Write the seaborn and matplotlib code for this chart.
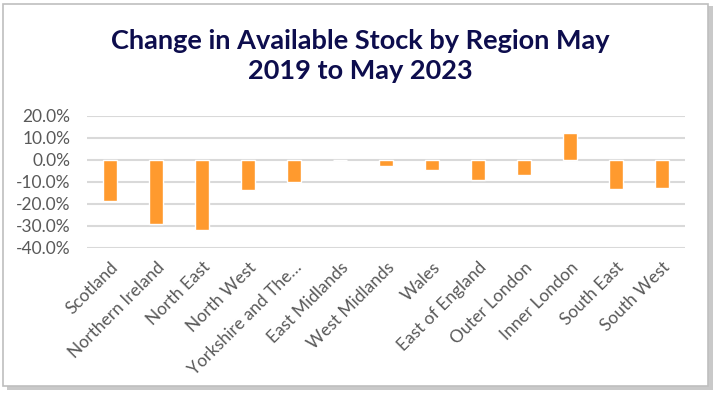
import pandas as pd
import matplotlib.pyplot as plt
import seaborn as sns
from matplotlib.patches import Rectangle
from matplotlib.ticker import PercentFormatter

regions = ['Scotland', 'Northern Ireland', 'North East', 'North West',
           'Yorkshire and The\u2026', 'East Midlands', 'West Midlands', 'Wales',
           'East of England', 'Outer London', 'Inner London', 'South East',
           'South West']
change = [-0.185, -0.29, -0.318, -0.135, -0.098, 0.001, -0.025, -0.045,
          -0.09, -0.068, 0.122, -0.132, -0.127]

df = pd.DataFrame({'Region': regions, 'Change': change})

sns.set_theme(style='white')
plt.rcParams['font.family'] = ['Lato', 'DejaVu Sans']
plt.rcParams['axes.unicode_minus'] = False

fig = plt.figure(figsize=(7.2, 4), dpi=100)

# frame with drop shadow like the exported chart box
fig.patches.append(Rectangle((7 / 720, 1 - 390 / 400), 706 / 720, 384 / 400,
                             transform=fig.transFigure, facecolor='#a6a6a6',
                             edgecolor='none', alpha=0.6, zorder=-2))
fig.patches.append(Rectangle((3 / 720, 1 - 386 / 400), 705 / 720, 382 / 400,
                             transform=fig.transFigure, facecolor='white',
                             edgecolor='#bfbfbf', linewidth=1.2, zorder=-1))

ax = fig.add_axes([87 / 720, 1 - 248 / 400, 598 / 720, 132 / 400])
ax.set_facecolor('none')
sns.barplot(data=df, x='Region', y='Change', color='#FF9A2E', saturation=1,
            width=0.3, ax=ax)

ax.set_ylim(-0.4, 0.2)
ax.set_yticks([0.2, 0.1, 0.0, -0.1, -0.2, -0.3, -0.4])
ax.yaxis.set_major_formatter(PercentFormatter(1, decimals=1))
ax.yaxis.grid(True, color='#d9d9d9', linewidth=1.5)
ax.set_axisbelow(True)
for s in ax.spines.values():
    s.set_visible(False)
ax.tick_params(axis='both', length=0, colors='#595959', labelsize=12.5)
ax.tick_params(axis='y', pad=12)
ax.tick_params(axis='x', pad=8)
plt.setp(ax.get_xticklabels(), rotation=45, ha='right', rotation_mode='anchor')
ax.set_xlabel('')
ax.set_ylabel('')

fig.text(0.5, 1 - 56 / 400, 'Change in Available Stock by Region May\n2019 to May 2023',
         ha='center', va='center', fontsize=19.5, fontweight='bold',
         color='#0d0d4d', linespacing=1.3)

fig.savefig('out.png', dpi=100)
